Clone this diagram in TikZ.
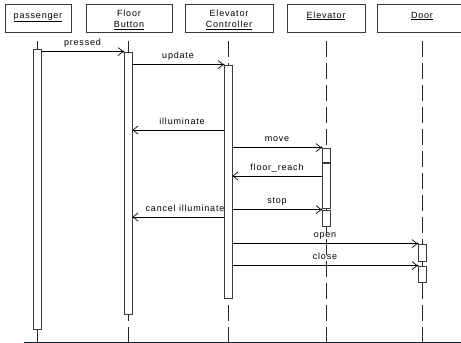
\documentclass[tikz,border=0pt]{standalone}
\usepackage{fontspec}
\setmainfont{Liberation Sans}[LetterSpace=9]
\usetikzlibrary{arrows.meta}
\definecolor{boxline}{HTML}{3A3A3A}
\definecolor{baseline}{HTML}{0E1A2E}
\tikzset{
  hdr/.style={draw=boxline, line width=0.8pt, rectangle, minimum height=28pt, inner sep=0pt, fill=white},
  htext/.style={inner sep=0pt, font=\fontsize{9}{11}\selectfont, align=center},
  bar/.style={draw=boxline, line width=0.8pt, fill=white, rectangle, minimum width=8pt, inner sep=0pt},
  life/.style={draw=black!85, line width=0.8pt, dash pattern=on 16pt off 6pt},
  msg/.style={draw=black, line width=0.7pt, -{Straight Barb[length=5pt,width=8pt,line width=0.7pt]}},
  lbl/.style={inner sep=0pt, anchor=base, yshift=6pt, font=\fontsize{9}{10}\selectfont},
  tipdot/.style={fill=black},
}
\begin{document}
\begin{tikzpicture}[x=1pt,y=-1pt]
\useasboundingbox (0,0) rectangle (461,343);
\clip (0,0) rectangle (461,343);
% header boxes
\node[hdr, minimum width=66pt] (hp) at (38,18) {};
\node[hdr, minimum width=86pt] (hf) at (129,18) {};
\node[hdr, minimum width=88pt] (hc) at (229,18) {};
\node[hdr, minimum width=78pt] (he) at (326,18) {};
\node[hdr, minimum width=98pt] (hd) at (426,18) {};
\node[htext, anchor=base] (tp) at (38,18) {\underline{passenger}};
\node[htext] (tf) at (129,19.5) {Floor\\\underline{Button}};
\node[htext] (tc) at (229,19.5) {Elevator\\\underline{Controller}};
\node[htext, anchor=base] (te) at (326,18) {\underline{Elevator}};
\node[htext, anchor=base] (td) at (422,18) {\underline{Door}};
% base coordinates
\coordinate (bl) at (24,342);
\coordinate (br) at (461,342);
% lifelines
\foreach \x in {37,128,228,326,422}{
  \draw[life] (\x,41) -- (\x,343);
}
% activation bars
\node[bar, minimum height=280pt] (pb) at (37,189) {};
\node[bar, minimum height=262pt] (fb) at (128,183) {};
\node[bar, minimum height=233pt] (cb) at (228,181.5) {};
\node[bar, minimum height=14pt] (e1) at (326,155) {};
\node[bar, minimum height=45pt] (e2) at (326,185.5) {};
\node[bar, minimum height=16pt] (e3) at (326,218) {};
\node[bar, minimum height=17pt] (d1) at (422,252.5) {};
\node[bar, minimum height=16pt] (d2) at (422,274) {};
% message y levels
\coordinate (yill) at (0,130);
\coordinate (yfr) at (0,176);
\coordinate (ycan) at (0,217);
% messages
\draw[msg] (pb.east |- fb.north) -- (fb.north west) node[lbl, midway] {pressed};
\draw[msg] (fb.east |- cb.north) -- (cb.north west) node[lbl, midway] {update};
\draw[msg] (cb.west |- yill) -- (fb.east |- yill) node[lbl, midway, xshift=4pt] {illuminate};
\draw[msg] (cb.east |- e1.north) -- (e1.north west) node[lbl, midway] {move};
\draw[msg] (e2.west |- yfr) -- (cb.east |- yfr) node[lbl, midway] {floor\_reach};
\draw[msg] (cb.east |- e3.north) -- (e3.north west) node[lbl, midway] {stop};
\draw[msg] (cb.west |- ycan) -- (fb.east |- ycan) node[lbl, midway, xshift=7pt] {cancel illuminate};
\draw[msg] (cb.east |- d1.north) -- (d1.north west) node[lbl, midway] {open};
\draw[msg] (cb.east |- d2.north) -- (d2.north west) node[lbl, midway] {close};
% tip dots
\foreach \n in {fb,cb,e1,e3,d1,d2}{
  \fill[tipdot] (\n.north west) circle (1pt);
}
% bottom line
\draw[draw=baseline, line width=1pt] (bl) -- (br);
\end{tikzpicture}
\end{document}
